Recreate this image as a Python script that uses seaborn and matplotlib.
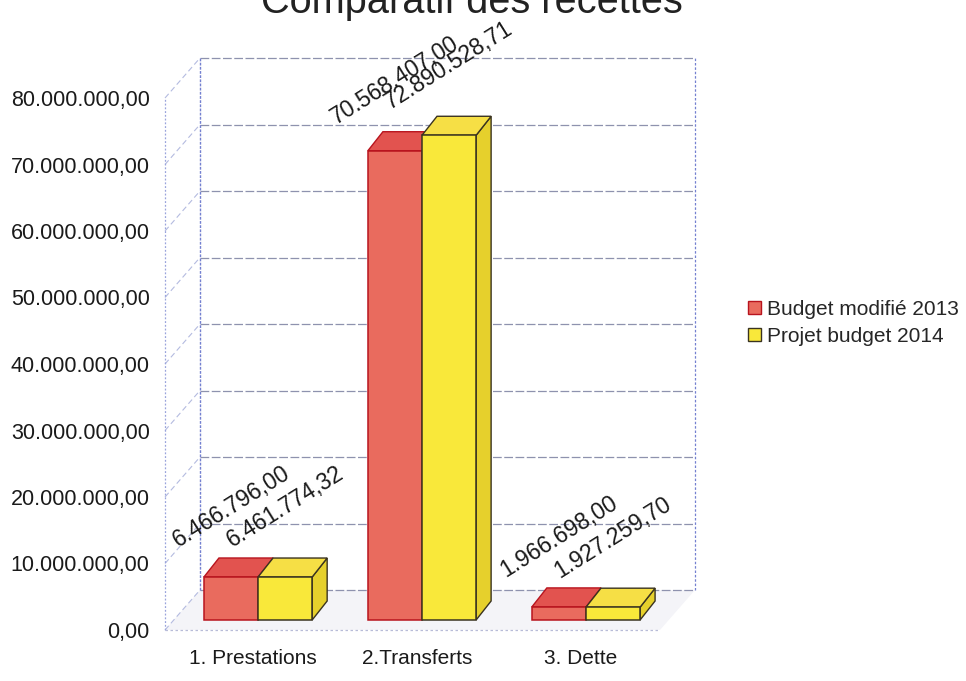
import numpy as np
import pandas as pd
import matplotlib
matplotlib.use("Agg")
import matplotlib.pyplot as plt
import seaborn as sns
from matplotlib.transforms import Affine2D, IdentityTransform, blended_transform_factory
from matplotlib.patches import Polygon, Patch

# ---------------- data ----------------
title = "Comparatif des recettes"
categories = ["1. Prestations", "2.Transferts", "3. Dette"]
series = ["Budget modifié 2013", "Projet budget 2014"]
budget_2013 = [6466796.00, 70568407.00, 1966698.00]
projet_2014 = [6461774.32, 72890528.71, 1927259.70]
yticks = [0, 10e6, 20e6, 30e6, 40e6, 50e6, 60e6, 70e6, 80e6]
series_values = [budget_2013, projet_2014]

# ---------------- style ----------------
front_colors = ["#E96B5E", "#F9E83A"]
top_colors = ["#E2534F", "#F6DF45"]
side_colors = ["#C94A40", "#E6D02C"]
edge_colors = ["#B8141E", "#3A3320"]
wall_color = "#8E92AE"
wall_blue = "#7480D0"
BAR_SHIFT = (5, 10)      # px, bars sit mid-depth on the floor
DEPTH = (15, 19)         # px, bar depth
WALL = (35, 40)          # px, back wall offset


def fmt(v):
    s = f"{v:,.2f}"
    return s.replace(",", "X").replace(".", ",").replace("X", ".")


df = pd.DataFrame({
    "categorie": categories * len(series),
    "serie": [s for s in series for _ in categories],
    "valeur": [v for vals in series_values for v in vals],
})

sns.set_theme(style="white")
plt.rcParams["font.family"] = ["Liberation Sans", "DejaVu Sans"]

W, H = 966, 681
fig = plt.figure(figsize=(W / 100, H / 100), dpi=100)
ax = fig.add_axes([165 / W, (H - 630) / H, (660 - 165) / W, (630 - 98) / H])

sns.barplot(data=df, x="categorie", y="valeur", hue="serie", order=categories,
            hue_order=series, palette=front_colors, width=0.66, gap=0,
            saturation=1, errorbar=None, legend=False, ax=ax, zorder=3,
            linewidth=1.1)

ax.set_xlim(-0.537, 2.482)
ax.set_ylim(0, 80e6)
ax.autoscale(False)

for s in ax.spines.values():
    s.set_visible(False)
ax.set_xlabel("")
ax.set_ylabel("")
ax.set_yticks(yticks)
ax.set_yticklabels([fmt(v) for v in yticks], fontsize=15.5, color="#1a1a1a")
ax.tick_params(axis="y", length=0, pad=11)
ax.tick_params(axis="x", length=0, pad=14, labelsize=15, labelcolor="#1a1a1a")
ax.grid(False)

# ---------------- walls ----------------
B = blended_transform_factory(ax.transAxes, ax.transData)
back = B + Affine2D().translate(*WALL)
for v in yticks:
    ax.plot([0, 1], [v, v], transform=back, color=wall_color, lw=0.9,
            ls=(0, (7, 2)), zorder=0.5, clip_on=False)
    p = B.transform((0, v))
    ax.plot([p[0], p[0] + WALL[0]], [p[1], p[1] + WALL[1]],
            transform=IdentityTransform(), color="#B4BBE0", lw=0.8,
            ls=(0, (5, 3)), zorder=0.5, clip_on=False)
ax.plot([0, 0], [0, yticks[-1]], transform=back, color=wall_blue, lw=1.0,
        ls=(0, (2, 1)), zorder=0.6, clip_on=False)
ax.plot([1, 1], [0, yticks[-1]], transform=back, color=wall_blue, lw=0.9,
        ls=(0, (2, 1.5)), zorder=0.6, clip_on=False)
ax.plot([0, 0], [0, yticks[-1]], transform=B, color="#9AA4DC", lw=0.9,
        ls=(0, (1.5, 1.5)), zorder=0.6, clip_on=False)
ax.plot([0, 1], [0, 0], transform=B, color="#B8BCD8", lw=0.9,
        ls=(0, (2, 2)), zorder=0.6, clip_on=False)
f0, f1 = B.transform([(0, 0), (1, 0)])
floor = Polygon([f0, f1, f1 + np.array(WALL), f0 + np.array(WALL)],
                transform=IdentityTransform(), facecolor="#F4F4F8",
                edgecolor="none", zorder=0.3, clip_on=False)
ax.add_artist(floor)

# ---------------- 3D bars ----------------
T = ax.transData + Affine2D().translate(*BAR_SHIFT)
d = np.array(DEPTH)
for i, cont in enumerate(ax.containers):
    for j, p in enumerate(cont):
        p.set_transform(T)
        p.set_edgecolor(edge_colors[i])
        x0, y0, w, h = p.get_x(), p.get_y(), p.get_width(), p.get_height()
        bl, br, tl, tr = T.transform([(x0, y0), (x0 + w, y0), (x0, y0 + h), (x0 + w, y0 + h)])
        top = Polygon([tl, tr, tr + d, tl + d], transform=IdentityTransform(),
                      facecolor=top_colors[i], edgecolor=edge_colors[i], lw=1.0,
                      zorder=2.5 + 0.1 * i, clip_on=False)
        side = Polygon([br, tr, tr + d, br + d], transform=IdentityTransform(),
                       facecolor=side_colors[i], edgecolor=edge_colors[i], lw=1.0,
                       zorder=2.5 + 0.1 * i, clip_on=False)
        ax.add_artist(side)
        ax.add_artist(top)
        ax.annotate(fmt(series_values[i][j]), xy=(x0 + w / 2, y0 + h),
                    xytext=(BAR_SHIFT[0], BAR_SHIFT[1] + 70),
                    textcoords="offset pixels", rotation=32,
                    rotation_mode="anchor", ha="center", va="center",
                    fontsize=16.5, color="#1a1a1a", annotation_clip=False,
                    zorder=5)

# ---------------- legend & title ----------------
handles = [Patch(facecolor=front_colors[i], edgecolor=edge_colors[i], lw=1.0,
                 label=series[i]) for i in range(len(series))]
ax.legend(handles=handles, loc="center left",
          bbox_to_anchor=(748 / W, 1 - 323 / H), bbox_transform=fig.transFigure,
          frameon=False, fontsize=15, handlelength=0.6, handleheight=0.6,
          handletextpad=0.3, labelspacing=0.4, borderpad=0, borderaxespad=0)

fig.text(0.489, 1 - 13 / H, title, ha="center", va="baseline", fontsize=28.6,
         color="#222222")

fig.savefig("out.png", dpi=100)
